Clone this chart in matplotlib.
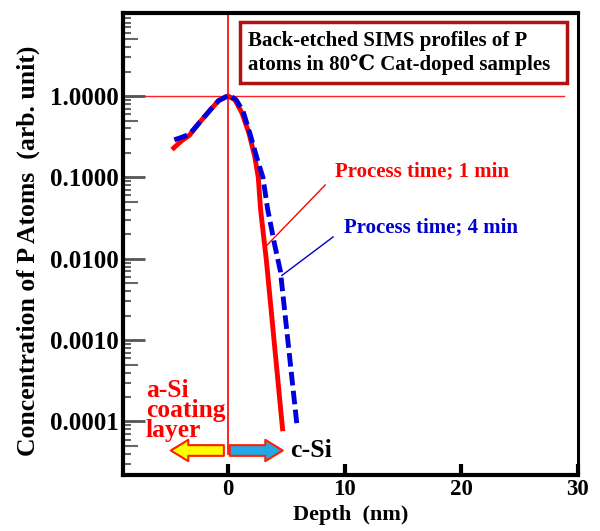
import matplotlib
matplotlib.use("Agg")
import matplotlib.pyplot as plt
from matplotlib.patches import Rectangle
from matplotlib.ticker import FixedLocator, NullLocator, NullFormatter, FuncFormatter

plt.rcParams['font.family'] = ['Liberation Serif', 'DejaVu Serif']
plt.rcParams['font.weight'] = 'bold'

# data
red_x = [-4.8, -4.0, -3.3, -2.4, -1.5, -0.8, 0.0, 0.6, 1.2, 1.8, 2.3, 2.6, 2.8, 3.3, 4.7]
red_y = [0.22, 0.28, 0.33, 0.48, 0.68, 0.88, 1.0, 0.9, 0.62, 0.35, 0.18, 0.1, 0.04, 0.0094, 7.6e-5]
blue_x = [-4.6, -4.0, -3.3, -2.4, -1.5, -0.8, 0.1, 0.7, 1.3, 1.9, 2.5, 3.0, 3.4, 4.0, 4.5, 5.9]
blue_y = [0.29, 0.31, 0.34, 0.48, 0.68, 0.88, 1.03, 0.9, 0.65, 0.34, 0.17, 0.1, 0.041, 0.015, 0.007, 9.5e-5]
x_ticks = [0, 10, 20, 30]
y_ticks = [1e-4, 1e-3, 1e-2, 1e-1, 1.0]
decades = [1e-5, 1e-4, 1e-3, 1e-2, 1e-1, 1.0]
minor_subs = [2, 3, 4, 6, 7, 8, 9]
title_text = "Back-etched SIMS profiles of P\natoms in 80\u2103 Cat-doped samples"
label_1 = "Process time; 1 min"
label_4 = "Process time; 4 min"

fig = plt.figure(figsize=(6.0, 5.31), dpi=100)
ax = fig.add_axes([0.205, 0.1055, 0.758, 0.870])
ax.set_yscale('log')
ax.set_xlim(-9, 30)
ax.set_ylim(2.2e-5, 10.5)

# reference lines
ax.axhline(1.0, xmin=0, xmax=(28.8 + 9) / 39, color='#ff2020', lw=1.0, zorder=1)
ax.plot([0, 0], [4.0e-5, 10.5], color='red', lw=1.2, zorder=1)

ax.plot(red_x, red_y, color='#ff0000', lw=3.5, solid_capstyle='butt', zorder=3)
ax.plot(blue_x, blue_y, color='#0000dd', lw=3.5, linestyle=(0, (2.8, 1.1)), zorder=4)

# annotations
ax.annotate(label_1, xy=(3.1, 0.0135), xytext=(9.17, 0.12), color='red', fontsize=15,
            fontweight='bold', va='center', ha='left',
            arrowprops=dict(arrowstyle='-', color='red', lw=1.0, shrinkA=7, shrinkB=0,
                            relpos=(0, 0.3)))
ax.annotate(label_4, xy=(4.6, 0.0062), xytext=(9.94, 0.0247), color='#0000cc', fontsize=15,
            fontweight='bold', va='center', ha='left',
            arrowprops=dict(arrowstyle='-', color='#0000cc', lw=1.0, shrinkA=7, shrinkB=0,
                            relpos=(0, 0.4)))

# title box
ax.text(0.275, 0.914, title_text, transform=ax.transAxes, fontsize=15, fontweight='bold',
        va='center', ha='left', linespacing=1.2, zorder=5)
ax.add_patch(Rectangle((0.257, 0.849), 0.719, 0.132, transform=ax.transAxes, fill=False,
                       edgecolor='#b01010', lw=2.5, zorder=5))

# region labels and arrows
ax.text(-7.03, 1.36e-4, "a-Si\ncoating\nlayer", color='red', fontsize=18.4, fontweight='bold',
        ha='left', va='center', linespacing=0.84)
ax.annotate('', xy=(-4.9, 4.4e-5), xytext=(-0.35, 4.4e-5),
            arrowprops=dict(arrowstyle='simple,head_length=0.9,head_width=1.1,tail_width=0.55',
                            fc='#ffff00', ec='#ff2000', lw=1.5, mutation_scale=14,
                            shrinkA=0, shrinkB=0))
ax.annotate('', xy=(4.7, 4.4e-5), xytext=(0.15, 4.4e-5),
            arrowprops=dict(arrowstyle='simple,head_length=0.9,head_width=1.1,tail_width=0.55',
                            fc='#20a8e8', ec='#ff2000', lw=1.5, mutation_scale=14,
                            shrinkA=0, shrinkB=0))
ax.text(5.3, 4.4e-5, "c-Si", color='black', fontsize=18.5, fontweight='bold', ha='left', va='center')

# axes styling
for s in ax.spines.values():
    s.set_linewidth(3)
    s.set_color('black')
ax.spines['right'].set_linewidth(2.2)

ax.xaxis.set_major_locator(FixedLocator(x_ticks))
ax.yaxis.set_major_locator(FixedLocator(y_ticks))
ax.yaxis.set_minor_locator(FixedLocator([d * s for d in decades for s in minor_subs]))
ax.yaxis.set_minor_formatter(NullFormatter())
ax.yaxis.set_major_formatter(FuncFormatter(lambda v, p: f"{v:.4f}"))
ax.tick_params(axis='x', direction='in', length=8, width=3, color='black',
               labelsize=16.5, pad=3)
ax.tick_params(axis='y', which='major', direction='in', length=16, width=2, color='#555555',
               labelsize=18, pad=3)
ax.tick_params(axis='y', which='minor', direction='in', length=6, width=1.5, color='#666666')
for lab in ax.get_xticklabels() + ax.get_yticklabels():
    lab.set_fontweight('bold')

# mid-decade (5x) ticks, a little longer
sec = ax.secondary_yaxis('left')
sec.yaxis.set_major_locator(FixedLocator([d * 5 for d in decades]))
sec.yaxis.set_minor_locator(NullLocator())
sec.yaxis.set_major_formatter(NullFormatter())
sec.tick_params(axis='y', which='major', direction='in', length=11, width=1.5, color='#666666')
sec.spines['left'].set_visible(False)

ax.set_xlabel("Depth  (nm)", fontsize=16, fontweight='bold')
ax.xaxis.set_label_coords(0.5, -0.064)
ax.set_ylabel("Concentration of P Atoms  (arb. unit)", fontsize=18.5, fontweight='bold')
ax.yaxis.set_label_coords(-0.182, 0.486)

fig.savefig("out.png", dpi=100)
